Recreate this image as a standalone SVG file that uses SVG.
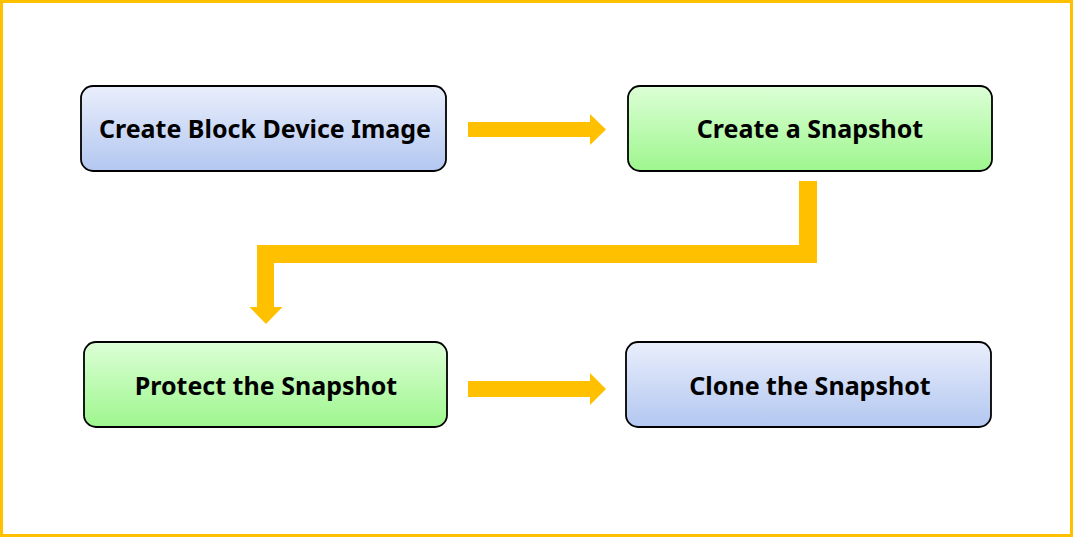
<svg xmlns="http://www.w3.org/2000/svg" width="1073" height="537" viewBox="0 0 1073 537">
<defs>
<linearGradient id="gBlue" x1="0" y1="0" x2="0" y2="1">
<stop offset="0" stop-color="#e9eefb"/>
<stop offset="1" stop-color="#b3c7f1"/>
</linearGradient>
<linearGradient id="gGreen" x1="0" y1="0" x2="0" y2="1">
<stop offset="0" stop-color="#dcffd6"/>
<stop offset="1" stop-color="#9ef68e"/>
</linearGradient>
<style>
.box{stroke:#000;stroke-width:1.8}
.blue{fill:url(#gBlue)}
.green{fill:url(#gGreen)}
.lbl{font-family:"Noto Sans","Open Sans",sans-serif;font-weight:bold;font-size:25px;fill:#000;text-anchor:middle;dominant-baseline:central}
.arr{fill:#ffc000}
</style>
</defs>
<rect x="0" y="0" width="1073" height="537" fill="#fff"/>
<rect x="1.5" y="1.5" width="1070" height="534" fill="none" stroke="#ffc000" stroke-width="3"/>
<g id="connectors">
<polygon class="arr" points="468,122 590,122 590,114 606,129.5 590,145 590,137 468,137"/>
<polygon class="arr" points="799,181 817,181 817,263 274,263 274,307 282.5,307 266,324 249.5,307 257,307 257,245 799,245"/>
<polygon class="arr" points="468,381 590,381 590,373 606,389 590,405 590,397 468,397"/>
</g>
<g id="node1">
<rect class="box blue" x="81" y="86" width="365" height="85" rx="12"/>
<text class="lbl" x="265" y="128">Create Block Device Image</text>
</g>
<g id="node2">
<rect class="box green" x="628" y="86" width="364" height="85" rx="12"/>
<text class="lbl" x="810" y="128">Create a Snapshot</text>
</g>
<g id="node3">
<rect class="box green" x="84" y="342" width="363" height="85" rx="12"/>
<text class="lbl" x="266" y="385">Protect the Snapshot</text>
</g>
<g id="node4">
<rect class="box blue" x="626" y="342" width="365" height="85" rx="12"/>
<text class="lbl" x="810" y="385">Clone the Snapshot</text>
</g>
</svg>
